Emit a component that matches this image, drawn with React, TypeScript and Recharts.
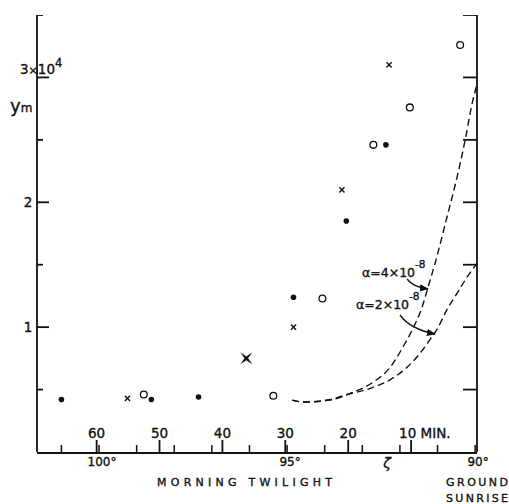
import React from 'react';
import { ComposedChart, XAxis, YAxis, Scatter, Line } from 'recharts';

// x: minutes before ground sunrise, y: y_m in units of 10^4
const minuteTicks = [60, 50, 40, 30, 20, 10];
const degreeTicks = [90, 91, 92, 93, 94, 95, 96, 97, 98, 99, 100, 101];
const degreeLabels = [100, 95, 90];
const yTicks = [0.5, 1, 1.5, 2, 2.5, 3, 3.5];
const yLabels: Record<string, string> = { '1': '1', '2': '2' };

const filledDots = [
  { m: 65.6, v: 0.42 },
  { m: 51.3, v: 0.42 },
  { m: 43.8, v: 0.44 },
  { m: 28.7, v: 1.24 },
  { m: 20.3, v: 1.85 },
  { m: 14.0, v: 2.46 },
];
const openDots = [
  { m: 52.5, v: 0.46 },
  { m: 31.9, v: 0.45 },
  { m: 24.1, v: 1.23 },
  { m: 16.0, v: 2.46 },
  { m: 10.2, v: 2.76 },
  { m: 2.2, v: 3.26 },
];
const crosses = [
  { m: 55.1, v: 0.43 },
  { m: 28.7, v: 1.0 },
  { m: 21.0, v: 2.1 },
  { m: 13.5, v: 3.1 },
];
const boldCross = [{ m: 36.2, v: 0.75 }];

const curveAlpha4 = [
  { m: 28.9, v: 0.416 },
  { m: 27.1, v: 0.4 },
  { m: 22.9, v: 0.416 },
  { m: 19.2, v: 0.48 },
  { m: 16.0, v: 0.56 },
  { m: 13.3, v: 0.68 },
  { m: 11.3, v: 0.84 },
  { m: 9.7, v: 0.99 },
  { m: 8.25, v: 1.16 },
  { m: 7.3, v: 1.32 },
  { m: 6.2, v: 1.51 },
  { m: 4.3, v: 1.88 },
  { m: 2.7, v: 2.2 },
  { m: 1.4, v: 2.5 },
  { m: 0.3, v: 2.79 },
  { m: -0.45, v: 2.94 },
];
const curveAlpha2 = [
  { m: 28.9, v: 0.416 },
  { m: 27.1, v: 0.4 },
  { m: 22.9, v: 0.42 },
  { m: 20.2, v: 0.46 },
  { m: 16.5, v: 0.51 },
  { m: 13.3, v: 0.58 },
  { m: 10.6, v: 0.68 },
  { m: 8.6, v: 0.79 },
  { m: 7.0, v: 0.9 },
  { m: 5.9, v: 0.98 },
  { m: 4.3, v: 1.14 },
  { m: 2.7, v: 1.27 },
  { m: 1.1, v: 1.4 },
  { m: -0.45, v: 1.51 },
];

const M_MIN = -0.48;
const M_MAX = 69.48;

// tick-mark series built from the tick arrays
const minuteMarks = minuteTicks.map((m) => ({ m, v: 0 }));
const degreeMarks = degreeTicks.map((deg) => ({ deg, v: 0 }));
const leftMarks = yTicks.map((v) => ({ m: M_MAX, v }));
const rightMarks = yTicks.map((v) => ({ m: M_MIN, v }));

const FONT = '"DejaVu Sans", sans-serif';
const INK = '#111';
const TXT = { fontFamily: FONT, fill: INK, stroke: INK, strokeWidth: 0.35 };

const MinuteLabel = (props: any) => {
  const { x, y, payload } = props;
  const val = payload.value;
  return val === 10 ? (
    <text x={x - 12} y={y - 15} fontSize={13.5} {...TXT} textAnchor="start">
      10 MIN.
    </text>
  ) : (
    <text x={x} y={y - 15} fontSize={13.5} {...TXT} textAnchor="middle">
      {val}
    </text>
  );
};

const DegreeLabel = (props: any) => {
  const { x, y, payload } = props;
  const val = payload.value;
  if (!degreeLabels.includes(val)) return <g />;
  return (
    <text x={x + 3} y={y + 14} fontSize={12} {...TXT} textAnchor="middle">
      {val}°
    </text>
  );
};

const LeftLabel = (props: any) => {
  const { x, y, payload } = props;
  const val = payload.value;
  if (val === 3) {
    return (
      <text x={x - 17} y={y - 3} fontSize={13.5} {...TXT}>
        3<tspan fontSize={11}>×</tspan>10<tspan fontSize={11.5} dy={-7}>4</tspan>
      </text>
    );
  }
  if (yLabels[String(val)]) {
    return (
      <text x={x - 9} y={y + 5} fontSize={13.5} {...TXT} textAnchor="middle">
        {yLabels[String(val)]}
      </text>
    );
  }
  return <g />;
};

const NoLabel = () => <g />;

const MinuteMark = (p: any) => <rect x={p.cx - 0.9} y={p.cy - 12} width={1.8} height={13} fill={INK} />;
const DegreeMark = (p: any) => <rect x={p.cx - 0.75} y={p.cy - 7} width={1.5} height={7} fill={INK} />;
const LeftMark = (p: any) => {
  const major = Number.isInteger(p.v ?? p.payload?.v);
  return <rect x={p.cx} y={p.cy - 0.9} width={major ? 12 : 6} height={1.8} fill={INK} />;
};
const RightMark = (p: any) => <rect x={p.cx - 14} y={p.cy - 0.9} width={14} height={1.8} fill={INK} />;

const DotShape = (p: any) => <circle cx={p.cx} cy={p.cy} r={2.8} fill={INK} />;
const OpenShape = (p: any) => <circle cx={p.cx} cy={p.cy} r={3.4} fill="#fff" stroke={INK} strokeWidth={1.3} />;
const CrossShape = (p: any) => (
  <g stroke={INK} strokeWidth={1.4}>
    <line x1={p.cx - 2.6} y1={p.cy - 2.6} x2={p.cx + 2.6} y2={p.cy + 2.6} />
    <line x1={p.cx - 2.6} y1={p.cy + 2.6} x2={p.cx + 2.6} y2={p.cy - 2.6} />
  </g>
);
const BoldCrossShape = (p: any) => {
  const { cx, cy } = p;
  const o = 6;
  const i = 1.8;
  const pts = [
    [cx - o, cy - o], [cx, cy - i], [cx + o, cy - o], [cx + i, cy],
    [cx + o, cy + o], [cx, cy + i], [cx - o, cy + o], [cx - i, cy],
  ].map((q) => q.join(',')).join(' ');
  return <polygon points={pts} fill={INK} />;
};

export default function App() {
  return (
    <div style={{ position: 'absolute', left: 0, top: 0, width: 509, height: 504, background: '#fff' }}>
      <ComposedChart width={509} height={504} margin={{ top: 15, right: 31, bottom: 50, left: 36 }}>
        <defs>
          <marker id="ah" viewBox="0 0 10 10" refX="9" refY="5" markerWidth="7" markerHeight="7" orient="auto">
            <path d="M0,1 L10,5 L0,9 z" fill={INK} />
          </marker>
        </defs>
        <XAxis
          xAxisId="min"
          dataKey="m"
          type="number"
          domain={[M_MIN, M_MAX]}
          allowDataOverflow
          reversed
          ticks={minuteTicks}
          interval={0}
          height={1}
          tickSize={0}
          tickMargin={0}
          tickLine={false}
          axisLine={{ stroke: INK, strokeWidth: 1.8 }}
          tick={<MinuteLabel />}
        />
        <XAxis
          xAxisId="deg"
          dataKey="deg"
          type="number"
          domain={[89.95, 101.65]}
          allowDataOverflow
          reversed
          ticks={degreeTicks}
          interval={0}
          height={1}
          tickSize={0}
          tickMargin={0}
          tickLine={false}
          axisLine={false}
          tick={<DegreeLabel />}
        />
        <YAxis
          yAxisId="left"
          dataKey="v"
          type="number"
          domain={[0, 3.5]}
          allowDataOverflow
          ticks={yTicks}
          interval={0}
          width={1}
          tickSize={0}
          tickMargin={0}
          tickLine={false}
          axisLine={{ stroke: INK, strokeWidth: 1.8 }}
          tick={<LeftLabel />}
        />
        <YAxis
          yAxisId="right"
          orientation="right"
          type="number"
          domain={[0, 3.5]}
          allowDataOverflow
          ticks={yTicks}
          interval={0}
          width={1}
          tickSize={0}
          tickMargin={0}
          tickLine={false}
          axisLine={{ stroke: INK, strokeWidth: 1.8 }}
          tick={<NoLabel />}
        />
        <Line
          xAxisId="min"
          yAxisId="left"
          data={curveAlpha4}
          dataKey="v"
          type="monotone"
          stroke={INK}
          strokeWidth={1.4}
          strokeDasharray="7 4"
          dot={false}
          activeDot={false}
          isAnimationActive={false}
        />
        <Line
          xAxisId="min"
          yAxisId="left"
          data={curveAlpha2}
          dataKey="v"
          type="monotone"
          stroke={INK}
          strokeWidth={1.4}
          strokeDasharray="7 4"
          dot={false}
          activeDot={false}
          isAnimationActive={false}
        />
        <Scatter xAxisId="min" yAxisId="left" data={filledDots} dataKey="v" shape={DotShape} isAnimationActive={false} />
        <Scatter xAxisId="min" yAxisId="left" data={openDots} dataKey="v" shape={OpenShape} isAnimationActive={false} />
        <Scatter xAxisId="min" yAxisId="left" data={crosses} dataKey="v" shape={CrossShape} isAnimationActive={false} />
        <Scatter xAxisId="min" yAxisId="left" data={boldCross} dataKey="v" shape={BoldCrossShape} isAnimationActive={false} />
        <Scatter xAxisId="min" yAxisId="left" data={minuteMarks} dataKey="v" shape={MinuteMark} isAnimationActive={false} />
        <Scatter xAxisId="deg" yAxisId="left" data={degreeMarks} dataKey="v" shape={DegreeMark} isAnimationActive={false} />
        <Scatter xAxisId="min" yAxisId="left" data={leftMarks} dataKey="v" shape={LeftMark} isAnimationActive={false} />
        <Scatter xAxisId="min" yAxisId="left" data={rightMarks} dataKey="v" shape={RightMark} isAnimationActive={false} />

        <g {...TXT}>
          <text x={10} y={112} fontSize={18}>y<tspan fontSize={12}>m</tspan></text>
          <text x={387} y={468} fontSize={14} textAnchor="middle" fontStyle="italic">ζ</text>
          <text x={157} y={486} fontSize={11} textLength={175} lengthAdjust="spacing">MORNING TWILIGHT</text>
          <text x={446} y={486} fontSize={11} textLength={62} lengthAdjust="spacing">GROUND</text>
          <text x={446} y={502} fontSize={11} textLength={62} lengthAdjust="spacing">SUNRISE</text>
          <text x={362} y={277} fontSize={12.5}>α=4×10<tspan fontSize={10.5} dy={-9}>-8</tspan></text>
          <text x={356} y={309} fontSize={12.5}>α=2×10<tspan fontSize={10.5} dy={-9}>-8</tspan></text>
        </g>
        <path d="M407,279 Q413,287 428,289" fill="none" stroke={INK} strokeWidth={1.3} markerEnd="url(#ah)" />
        <path d="M400,315 Q410,329 435,334" fill="none" stroke={INK} strokeWidth={1.3} markerEnd="url(#ah)" />
      </ComposedChart>
    </div>
  );
}
